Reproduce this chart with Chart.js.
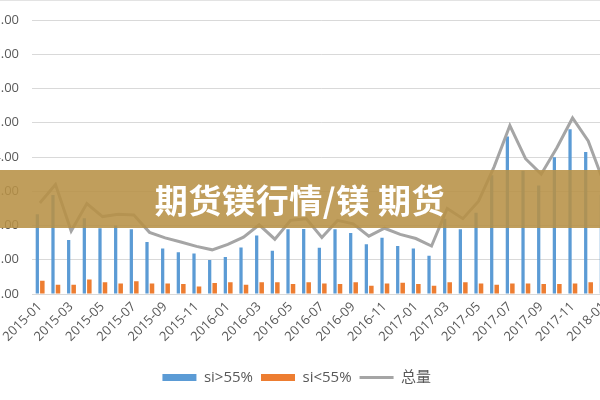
<!DOCTYPE html>
<html><head><meta charset="utf-8">
<script src="https://cdn.jsdelivr.net/npm/chart.js@4/dist/chart.umd.min.js"></script>
<style>
html,body{margin:0;padding:0;background:#fff;}
#wrap{position:relative;width:600px;height:400px;overflow:hidden;background:#fff;}
#c{position:absolute;left:-20px;top:-35px;}
#topline{position:absolute;left:0;top:0;width:600px;height:1px;background:#e3e3e3;}
#banner{position:absolute;left:0;top:170px;width:600px;height:58px;background:rgba(183,145,70,0.88);color:#fff;font:700 33px "Noto Sans CJK SC","Noto Sans",sans-serif;text-align:center;line-height:58px;letter-spacing:0.6px;}
</style></head><body>
<div id="wrap"><canvas id="c" width="640" height="430"></canvas><div id="topline"></div><div id="banner">期货镁行情/镁 期货</div></div>
<script>
const categories = ["2015-01","2015-02","2015-03","2015-04","2015-05","2015-06","2015-07","2015-08","2015-09","2015-10","2015-11","2015-12",
"2016-01","2016-02","2016-03","2016-04","2016-05","2016-06","2016-07","2016-08","2016-09","2016-10","2016-11","2016-12",
"2017-01","2017-02","2017-03","2017-04","2017-05","2017-06","2017-07","2017-08","2017-09","2017-10","2017-11","2017-12","2018-01"];
const siHigh = [2.33,2.89,1.58,2.21,1.92,2.00,1.89,1.52,1.33,1.22,1.18,0.99,
1.08,1.36,1.71,1.26,1.89,1.90,1.35,1.89,1.78,1.45,1.64,1.40,
1.33,1.12,2.20,1.89,2.37,3.47,4.60,3.60,3.17,3.99,4.81,4.15,2.90];
const siLow = [0.39,0.27,0.27,0.42,0.34,0.31,0.37,0.31,0.31,0.29,0.22,0.32,
0.34,0.27,0.34,0.34,0.29,0.34,0.31,0.29,0.34,0.24,0.31,0.33,
0.29,0.24,0.34,0.34,0.31,0.27,0.31,0.31,0.29,0.29,0.31,0.34,0.32];
const total = [2.66,3.20,1.84,2.64,2.26,2.33,2.31,1.80,1.64,1.52,1.39,1.29,
1.45,1.66,2.02,1.60,2.15,2.20,1.65,2.15,2.05,1.69,1.92,1.74,
1.62,1.40,2.50,2.20,2.71,3.72,4.92,3.95,3.50,4.27,5.14,4.47,3.25];
const seriesNames = ["si>55%","si<55%","总量"];
const yTicks = {min:0, max:9, step:1};

const FONT = '"Open Sans","Noto Sans CJK SC",sans-serif';
new Chart(document.getElementById('c'), {
  type: 'bar',
  data: {
    labels: categories,
    datasets: [
      {label: seriesNames[0], data: siHigh, backgroundColor:'#5b9bd5', categoryPercentage:0.64, barPercentage:0.65, order:1, pointStyle:'rect'},
      {label: seriesNames[1], data: siLow, backgroundColor:'#ed7d31', categoryPercentage:0.64, barPercentage:0.9, order:1, pointStyle:'rect'},
      {type:'line', label: seriesNames[2], data: total, borderColor:'#a5a5a5', backgroundColor:'#a5a5a5', borderWidth:3, pointRadius:0, pointStyle:'line', tension:0, order:0}
    ]
  },
  options: {
    responsive:false, animation:false,
    layout:{padding:{left:0,right:6.5,top:10,bottom:0}},
    plugins:{
      tooltip:{enabled:false},
      legend:{position:'bottom', labels:{usePointStyle:true, pointStyleWidth:34, boxHeight:7, padding:8, color:'#595959', font:{size:15, family:FONT},
        sort:(a,b)=>a.datasetIndex-b.datasetIndex}}
    },
    scales:{
      x:{offset:true, grid:{display:false, drawTicks:false}, border:{display:false},
        ticks:{autoSkip:false, maxRotation:45, minRotation:45, padding:5, color:'#595959', font:{size:13, family:FONT},
          callback:function(v,i){ return i%2===0 ? categories[i] : ''; }},
        afterFit:(s)=>{ s.height = 68; }},
      y:{min:yTicks.min, max:yTicks.max, grid:{color:'#d9d9d9', lineWidth:1, drawTicks:false}, border:{display:false},
        ticks:{stepSize:yTicks.step, padding:13, color:'#595959', font:{size:13, family:FONT}, callback:(v)=>Number(v).toFixed(2)},
        afterFit:(s)=>{ s.width = 52; }}
    }
  }
});
</script>
</body></html>
